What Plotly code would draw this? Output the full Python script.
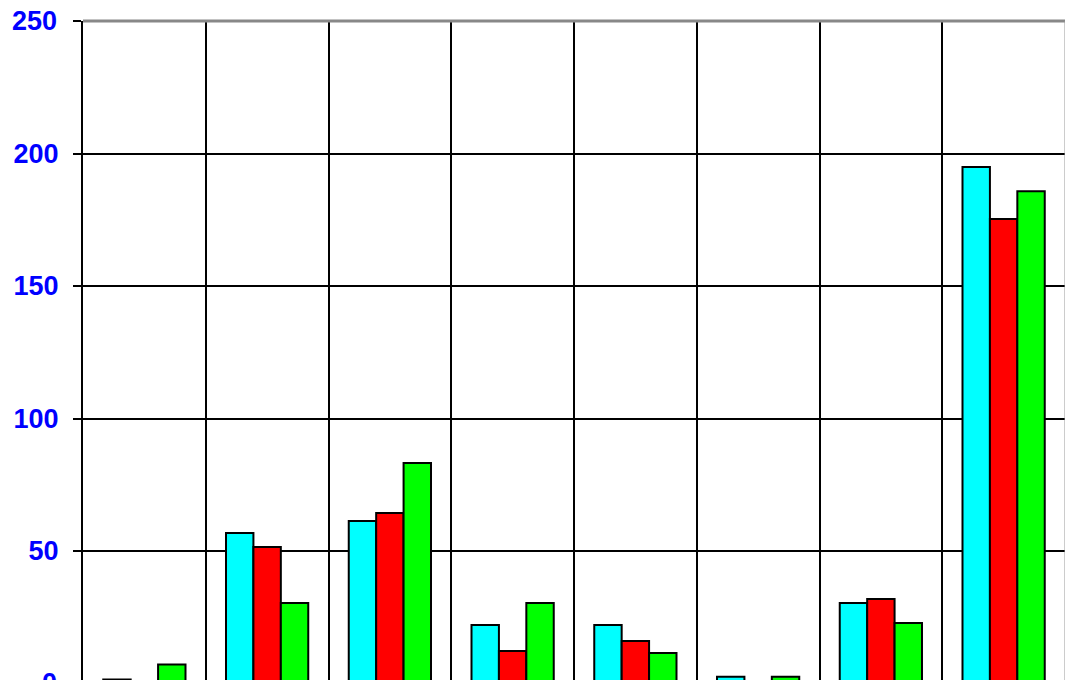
import plotly.graph_objects as go

categories = ["C1", "C2", "C3", "C4", "C5", "C6", "C7", "C8"]
series_a = [1.5, 56.8, 61.3, 22.1, 22.1, 2.5, 30.4, 194.9]
series_b = [0, 51.5, 64.3, 12.3, 16.0, 0, 31.9, 175.3]
series_c = [7.2, 30.4, 83.2, 30.4, 11.5, 2.5, 22.8, 185.8]
y_ticks = [0, 50, 100, 150, 200, 250]
y_range = [1.32, 250]

colors = ["#00FFFF", "#FF0000", "#00FF00"]
FONT = "Arial, Liberation Sans, sans-serif"
fig = go.Figure()
for name, vals, col in zip(["A", "B", "C"], [series_a, series_b, series_c], colors):
    fig.add_trace(go.Bar(x=categories, y=vals, name=name,
                         marker=dict(color=col, line=dict(color="black", width=2))))

# page body has an 8px default margin: figure sits at (8, 8)
fig.update_layout(
    width=1065, height=672,
    margin=dict(l=75, r=8, t=13, b=0, autoexpand=False),
    paper_bgcolor="white", plot_bgcolor="white",
    barmode="group", bargap=0.33, bargroupgap=0,
    showlegend=False,
    font=dict(family=FONT),
)
fig.update_xaxes(
    type="category", tickson="boundaries", showticklabels=False, ticks="",
    showgrid=True, gridcolor="black", gridwidth=2, zeroline=False, showline=False,
)
fig.update_yaxes(
    range=y_range, tickvals=y_ticks, showgrid=True, gridcolor="black", gridwidth=2,
    zeroline=False, showline=True, linecolor="black", linewidth=2,
    ticks="outside", ticklen=8, tickcolor="black", tickwidth=2,
    ticklabelstandoff=9,
    tickfont=dict(color="#0000FF", size=27, family=FONT, weight="bold"),
)
# top and right gray frame
fig.add_shape(type="line", xref="paper", yref="paper", x0=0, x1=1, y0=1, y1=1,
              line=dict(color="#888888", width=3), layer="above")
fig.add_shape(type="line", xref="paper", yref="paper", x0=1, x1=1, y0=0, y1=1,
              line=dict(color="#999999", width=1), layer="above")
# black line at right extending to the top
fig.add_shape(type="line", xref="paper", yref="paper", x0=1.002, x1=1.002, y0=-0.01, y1=1.04,
              line=dict(color="black", width=3), layer="above")
# end labels (250 at the top edge, 0 below the visible area) that the axis hides
for v in (y_ticks[0], y_ticks[-1]):
    py = (v - y_range[0]) / (y_range[1] - y_range[0])
    fig.add_annotation(xref="paper", yref="paper", x=0, y=py, xanchor="right", yanchor="middle",
                       xshift=-24, text=f"<b>{v}</b>", showarrow=False,
                       font=dict(color="#0000FF", size=27, family=FONT))

fig.write_html("out.html")
